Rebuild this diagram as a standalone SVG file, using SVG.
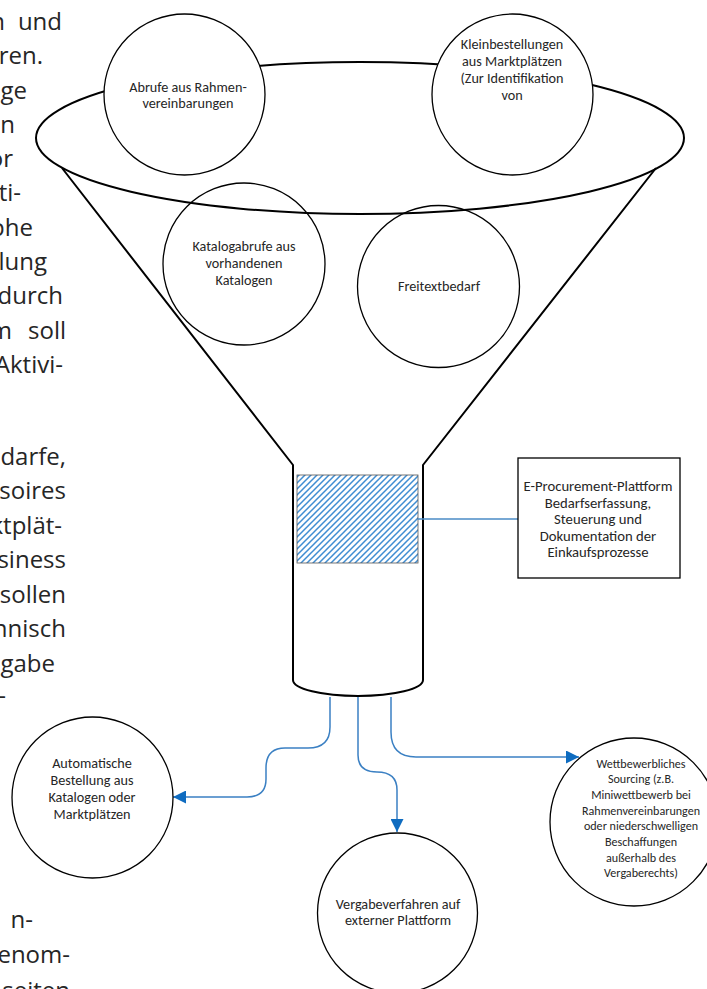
<svg xmlns="http://www.w3.org/2000/svg" width="707" height="989" viewBox="0 0 707 989">
  <style>
    .body { font-family: "Open Sans", "Noto Sans", sans-serif; font-size: 24px; fill: #262626; text-anchor: end; }
    .lbl { font-family: Carlito, Calibri, Lato, sans-serif; font-size: 14.2px; fill: #262626; text-anchor: middle; }
    .small { font-size: 12.1px; }
    .box { font-size: 14.7px; }
    .funnel { fill: none; stroke: #000; stroke-width: 2; stroke-linejoin: round; }
    .node { fill: #fff; stroke: #000; stroke-width: 1.3; }
    .node-open { fill: none; stroke: #000; stroke-width: 1.3; }
    .flow { fill: none; stroke: #3B80C3; stroke-width: 1.5; }
    .link { fill: none; stroke: #4A8BC6; stroke-width: 1.3; }
  </style>
  <defs>
    <marker id="arrow" viewBox="0 0 10 10" refX="10" refY="5" markerWidth="13" markerHeight="13" markerUnits="userSpaceOnUse" orient="auto">
      <path d="M0,0 L10,5 L0,10 z" fill="#0F6CC0"/>
    </marker>
    <pattern id="hatch" patternUnits="userSpaceOnUse" width="6" height="6">
      <rect width="6" height="6" fill="#fff"/>
      <path d="M0,6 L6,0 M-1.5,1.5 L1.5,-1.5 M4.5,7.5 L7.5,4.5" stroke="#3F8DD2" stroke-width="1.5"/>
    </pattern>
  </defs>

  <rect width="707" height="989" fill="#fff"/>

  <!-- surrounding body text, wrapped around the figure -->
  <g id="body-text">
    <text class="body" x="5" y="30">n</text>
    <text class="body" x="62" y="30">und</text>
    <text class="body" x="43" y="64">ren.</text>
    <text class="body" x="27" y="99">ige</text>
    <text class="body" x="15" y="133">n</text>
    <text class="body" x="13" y="167">or</text>
    <text class="body" x="21" y="201">ti-</text>
    <text class="body" x="33" y="236">phe</text>
    <text class="body" x="47" y="270">lung</text>
    <text class="body" x="63" y="304">durch</text>
    <text class="body" x="12" y="339">m</text>
    <text class="body" x="66" y="339">soll</text>
    <text class="body" x="63" y="373">Aktivi-</text>
    <text class="body" x="66" y="465">darfe,</text>
    <text class="body" x="66" y="499">soires</text>
    <text class="body" x="62" y="534">ktplät-</text>
    <text class="body" x="66" y="568">siness</text>
    <text class="body" x="66" y="603">sollen</text>
    <text class="body" x="66" y="637">nnisch</text>
    <text class="body" x="55" y="672">gabe</text>
    <text class="body" x="6" y="704">-</text>
    <text class="body" x="33" y="928">n-</text>
    <text class="body" x="70" y="963">enom-</text>
    <text class="body" x="70" y="999">seiten</text>
  </g>

  <!-- funnel body -->
  <g id="funnel">
    <ellipse class="funnel" cx="360" cy="138" rx="324" ry="76"/>
    <path class="funnel" d="M62,168 L293,465 V680 A65,16 0 0 0 423,680 V465 L656,168"/>
  </g>

  <!-- hatched platform block inside the funnel neck -->
  <g id="platform-block">
    <rect x="297" y="475" width="121" height="88" fill="url(#hatch)" stroke="#555" stroke-width="0.8"/>
  </g>

  <!-- connectors -->
  <g id="connectors">
    <path class="link" d="M418,519 H518"/>
    <path class="flow" d="M330,697 V727 Q330,748 308,748 H285 Q266,748 266,768 V779 Q266,797 247,797 H173" marker-end="url(#arrow)"/>
    <path class="flow" d="M358,697 V755 Q358,772 377,772 Q397,772 397,790 V832" marker-end="url(#arrow)"/>
    <path class="flow" d="M391,697 V732 Q391,757 416,757 H579" marker-end="url(#arrow)"/>
  </g>

  <g id="node-abrufe">
    <circle class="node" cx="184.5" cy="94.5" r="80.5"/>
    <text class="lbl" x="188" y="92">Abrufe aus Rahmen-</text>
    <text class="lbl" x="188" y="108">vereinbarungen</text>
  </g>

  <g id="node-kleinbestellungen">
    <circle class="node" cx="512.5" cy="94.5" r="80.5"/>
    <text class="lbl" x="512" y="49">Kleinbestellungen</text>
    <text class="lbl" x="512" y="66">aus Marktplätzen</text>
    <text class="lbl" x="512" y="83">(Zur Identifikation</text>
    <text class="lbl" x="512" y="100">von</text>
  </g>

  <g id="node-katalog">
    <circle class="node-open" cx="244" cy="264" r="81"/>
    <text class="lbl" x="244" y="251">Katalogabrufe aus</text>
    <text class="lbl" x="244" y="268">vorhandenen</text>
    <text class="lbl" x="244" y="285">Katalogen</text>
  </g>

  <g id="node-freitext">
    <circle class="node-open" cx="438.5" cy="286.5" r="81"/>
    <text class="lbl" x="439" y="291">Freitextbedarf</text>
  </g>

  <g id="node-plattform">
    <rect x="518" y="458" width="162" height="120" fill="#fff" stroke="#000" stroke-width="1.3"/>
    <text class="lbl box" x="598" y="491">E-Procurement-Plattform</text>
    <text class="lbl box" x="598" y="507.5">Bedarfserfassung,</text>
    <text class="lbl box" x="598" y="524">Steuerung und</text>
    <text class="lbl box" x="598" y="540.5">Dokumentation der</text>
    <text class="lbl box" x="598" y="557">Einkaufsprozesse</text>
  </g>

  <g id="node-automatisch">
    <circle class="node" cx="92.5" cy="797.5" r="80.5"/>
    <text class="lbl" x="92" y="768">Automatische</text>
    <text class="lbl" x="92" y="785">Bestellung aus</text>
    <text class="lbl" x="92" y="802">Katalogen oder</text>
    <text class="lbl" x="92" y="819">Marktplätzen</text>
  </g>

  <g id="node-vergabe">
    <circle class="node" cx="397.5" cy="913" r="80"/>
    <text class="lbl" x="398" y="909">Vergabeverfahren auf</text>
    <text class="lbl" x="398" y="925">externer Plattform</text>
  </g>

  <g id="node-wettbewerb">
    <circle class="node" cx="634" cy="822" r="84"/>
    <text class="lbl small" x="641" y="767.5">Wettbewerbliches</text>
    <text class="lbl small" x="641" y="783">Sourcing (z.B.</text>
    <text class="lbl small" x="641" y="799">Miniwettbewerb bei</text>
    <text class="lbl small" x="641" y="815">Rahmenvereinbarungen</text>
    <text class="lbl small" x="641" y="830">oder niederschwelligen</text>
    <text class="lbl small" x="641" y="846">Beschaffungen</text>
    <text class="lbl small" x="641" y="862">außerhalb des</text>
    <text class="lbl small" x="641" y="877">Vergaberechts)</text>
  </g>
</svg>
